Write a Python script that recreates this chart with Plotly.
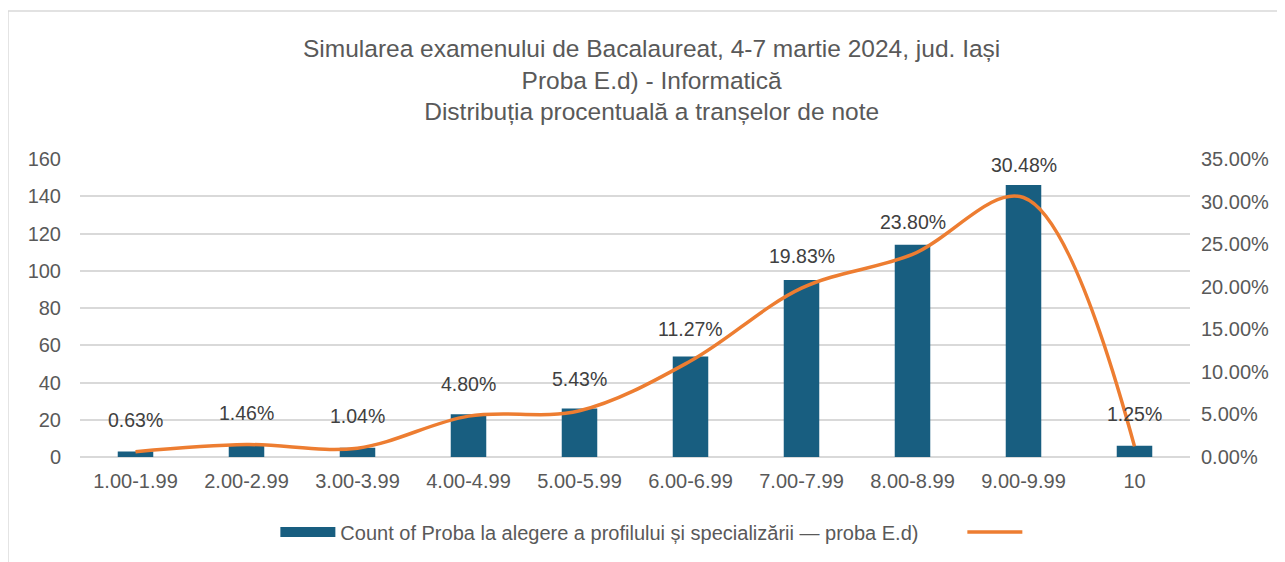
import plotly.graph_objects as go

categories = ["1.00-1.99", "2.00-2.99", "3.00-3.99", "4.00-4.99", "5.00-5.99",
              "6.00-6.99", "7.00-7.99", "8.00-8.99", "9.00-9.99", "10"]
counts = [3, 7, 5, 23, 26, 54, 95, 114, 146, 6]
percents = [0.0063, 0.0146, 0.0104, 0.0480, 0.0543, 0.1127, 0.1983, 0.2380, 0.3048, 0.0125]
pct_labels = ["0.63%", "1.46%", "1.04%", "4.80%", "5.43%", "11.27%", "19.83%", "23.80%", "30.48%", "1.25%"]

title_lines = ["Simularea examenului de Bacalaureat, 4-7 martie 2024, jud. Iași",
               "Proba E.d) - Informatică",
               "Distribuția procentuală a tranșelor de note"]
bar_name = "Count of Proba la alegere a profilului și specializării — proba E.d)"

GREY = "#595959"
FONT = "Liberation Sans"
BAR_COLOR = "#185E80"
LINE_COLOR = "#ED7D31"

fig = go.Figure()
fig.add_trace(go.Bar(x=categories, y=counts, name=bar_name, marker_color=BAR_COLOR,
                     marker_line_width=0, width=0.32, showlegend=False))
# legend proxy for the bar series (wide rectangle symbol)
fig.add_trace(go.Scatter(x=[None], y=[None], name=bar_name + "\u00a0" * 7, mode="lines",
                         line=dict(color=BAR_COLOR, width=11)))
fig.add_trace(go.Scatter(x=categories, y=percents, name="", yaxis="y2", mode="lines",
                         line=dict(color=LINE_COLOR, width=3.5, shape="spline", smoothing=1)))

for i, (p, t) in enumerate(zip(percents, pct_labels)):
    fig.add_annotation(x=i, y=p, xref="x", yref="y2", text=t, showarrow=False, yshift=32,
                       font=dict(family=FONT, size=19.5, color="#404040"))

fig.add_shape(type="rect", xref="paper", yref="paper", x0=-0.0649, x1=1.3, y0=-0.6, y1=1.4966,
              line=dict(color="#d9d9d9", width=1.5), fillcolor="rgba(0,0,0,0)", layer="below")

fig.update_layout(
    width=1277, height=554,
    margin=dict(l=72, r=95, t=151, b=105, autoexpand=False),
    plot_bgcolor="white", paper_bgcolor="white",
    title=dict(text="<br>".join(title_lines), x=0.515, xref="paper", xanchor="center",
               y=0.912, yanchor="top",
               font=dict(family=FONT, size=24.5, color=GREY)),
    xaxis=dict(tickfont=dict(family=FONT, size=20, color=GREY), showgrid=False,
               showline=False, ticks="", automargin=False, ticklabelstandoff=10),
    yaxis=dict(range=[0, 160], dtick=20, tickfont=dict(family=FONT, size=20, color=GREY),
               gridcolor="#d9d9d9", gridwidth=1.5, zeroline=True, zerolinecolor="#d9d9d9",
               zerolinewidth=1.5, ticklabelstandoff=18, automargin=False),
    yaxis2=dict(range=[0, 0.35], dtick=0.05, tickformat=".2%", overlaying="y", side="right",
                showgrid=False, zeroline=False, automargin=False,
                tickfont=dict(family=FONT, size=20, color=GREY), ticklabelstandoff=10),
    legend=dict(orientation="h", x=0.517, xanchor="center", y=-0.252, yanchor="middle",
                font=dict(family=FONT, size=20, color=GREY), itemwidth=55),
    showlegend=True,
)

fig.write_html("out.html")
